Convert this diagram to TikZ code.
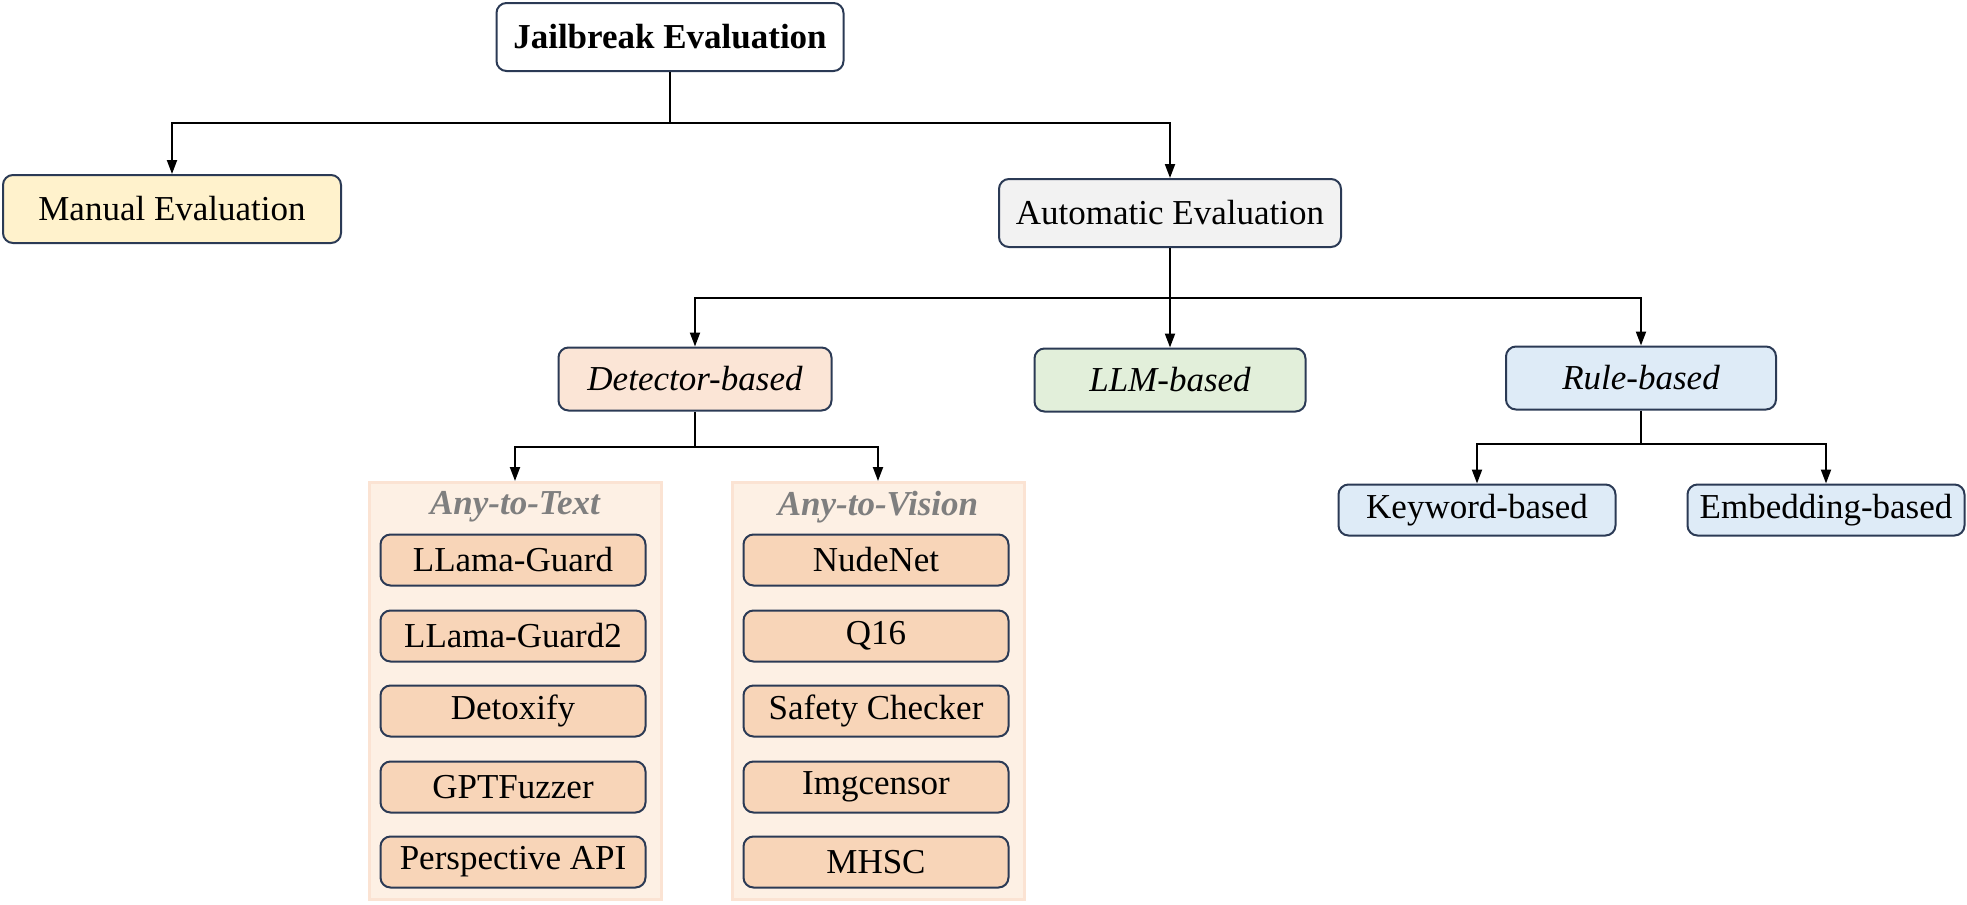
\documentclass[tikz,border=0pt]{standalone}
\usepackage{xcolor}
\usepackage{fontspec}
\setmainfont{Liberation Serif}
\usepackage{tikz}
\usetikzlibrary{arrows.meta}

\definecolor{edgeblue}{HTML}{2B3A55}
\definecolor{manualfill}{HTML}{FFF2CC}
\definecolor{autofill}{HTML}{F2F2F2}
\definecolor{detfill}{HTML}{FBE5D6}
\definecolor{llmfill}{HTML}{E2EFDA}
\definecolor{rulefill}{HTML}{DEEBF7}
\definecolor{groupfill}{HTML}{FDF0E4}
\definecolor{groupedge}{HTML}{FBE3D3}
\definecolor{itemfill}{HTML}{F8D5B8}
\definecolor{titlegray}{HTML}{7F7F7F}

\begin{document}
\begin{tikzpicture}[x=0.5pt,y=-0.5pt,
    font=\fontsize{17.5}{21}\selectfont,
    evalbox/.style={draw=edgeblue,line width=1pt,rounded corners=5pt,inner sep=0pt,text=black},
    itembox/.style={evalbox,fill=itemfill,minimum width=132.5pt,minimum height=25.5pt},
    groupbox/.style={draw=groupedge,fill=groupfill,line width=1.5pt,minimum width=146pt,minimum height=208.5pt,inner sep=0pt},
    grouptitle/.style={text=titlegray,font=\fontsize{17.5}{21}\selectfont\bfseries\itshape},
    link/.style={line width=1pt,-{Triangle[width=5pt,length=7pt]}}]
    \useasboundingbox (0,0) rectangle (1967,905);

    \node[evalbox,minimum width=173.5pt,minimum height=34pt,font=\fontsize{17.5}{21}\selectfont\bfseries] (JE) at (670,37) {Jailbreak Evaluation};
    \node[evalbox,fill=manualfill,minimum width=169pt,minimum height=34pt] (ME) at (172,209) {Manual Evaluation};
    \node[evalbox,fill=autofill,minimum width=171pt,minimum height=34pt] (AE) at (1170,213) {Automatic Evaluation};

    \node[evalbox,fill=detfill,minimum width=136.5pt,minimum height=31.5pt] (DB) at (695,379) {\itshape Detector-based};
    \node[evalbox,fill=llmfill,minimum width=135.5pt,minimum height=31.5pt] (LB) at (1170,380) {\itshape LLM-based};
    \node[evalbox,fill=rulefill,minimum width=135pt,minimum height=31.5pt] (RB) at (1641,378) {\itshape Rule-based};

    \node[evalbox,fill=rulefill,minimum width=138.5pt,minimum height=25.5pt] (KB) at (1477,510) {Keyword-based};
    \node[evalbox,fill=rulefill,minimum width=138.5pt,minimum height=25.5pt] (EB) at (1826,510) {Embedding-based};

    % detector groups
    \node[groupbox] (AT) at (515,691) {};
    \node[groupbox] (AV) at (878,691) {};
    \node[grouptitle] (ATt) at (515,507) {Any-to-Text};
    \node[grouptitle] (AVt) at (878,507) {Any-to-Vision};

    \node[itembox] (T1) at (513,560) {LLama-Guard};
    \node[itembox] (T2) at (513,636) {LLama-Guard2};
    \node[itembox] (T3) at (513,711) {Detoxify};
    \node[itembox] (T4) at (513,787) {GPTFuzzer};
    \node[itembox] (T5) at (513,862) {Perspective API};

    \node[itembox] (V1) at (876,560) {NudeNet};
    \node[itembox] (V2) at (876,636) {Q16};
    \node[itembox] (V3) at (876,711) {Safety Checker};
    \node[itembox] (V4) at (876,787) {Imgcensor};
    \node[itembox] (V5) at (876,862) {MHSC};

    \coordinate (J0) at (670,123);
    \coordinate (J1) at (1170,298);
    \coordinate (J2) at (695,447);
    \coordinate (J3) at (1641,444);

    \draw[line width=1pt] (JE) -- (J0);
    \draw[link] (J0) -| (ME);
    \draw[link] (J0) -| (AE);

    \draw[line width=1pt] (AE) -- (J1);
    \draw[link] (J1) -| (DB);
    \draw[link] (J1) -- (LB);
    \draw[link] (J1) -| (RB);

    \draw[line width=1pt] (DB) -- (J2);
    \draw[link] (J2) -| (AT);
    \draw[link] (J2) -| (AV);

    \draw[line width=1pt] (RB) -- (J3);
    \draw[link] (J3) -| (KB);
    \draw[link] (J3) -| (EB);
\end{tikzpicture}
\end{document}
